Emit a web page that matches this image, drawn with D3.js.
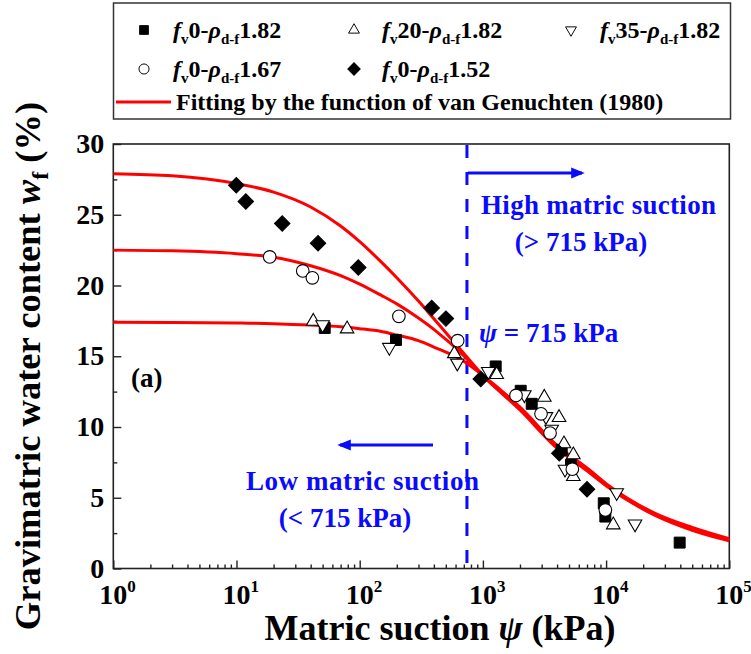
<!DOCTYPE html>
<html>
<head>
<meta charset="utf-8">
<script src="https://cdn.jsdelivr.net/npm/d3@7"></script>
<style>
  html, body { margin: 0; padding: 0; background: #fff; }
  svg { display: block; font-family: "Liberation Serif", "Times New Roman", serif; font-weight: bold; }
</style>
</head>
<body>
<svg id="chart" width="751" height="654"></svg>
<script>
// ---------------- DATA ----------------
// measured points: suction psi (kPa) and gravimetric water content (%)
const fv0_182_psi = [52, 197, 1270, 2027, 2490, 4363, 5190, 9570, 9860, 39550];
const fv0_182_w   = [17.0, 16.15, 14.28, 12.56, 11.64, 8.39, 7.33, 4.61, 3.67, 1.83];

const fv20_182_psi = [42, 79, 586, 1294, 3150, 4150, 4550, 5420, 5420, 11430];
const fv20_182_w   = [17.47, 16.93, 15.18, 13.7, 12.1, 10.67, 8.81, 8.03, 6.5, 3.08];

const fv35_182_psi = [50, 174, 620, 1106, 2168, 3250, 3615, 4640, 12190, 17170];
const fv35_182_w   = [17.23, 15.63, 14.52, 13.93, 12.28, 10.74, 9.85, 7.02, 5.36, 3.15];

const fv0_167_psi = [18.6, 34.5, 41.3, 208, 624, 1857, 2963, 3508, 5320, 9860];
const fv0_167_w   = [22.02, 21.03, 20.54, 17.82, 16.1, 12.23, 10.93, 9.57, 7.02, 4.14];

const fv0_152_psi = [9.96, 11.9, 23.5, 45.9, 97.4, 384, 501, 960, 4170, 7000];
const fv0_152_w   = [27.09, 25.94, 24.38, 22.99, 21.27, 18.41, 17.66, 13.39, 8.15, 5.6];

// fitted curves (van Genuchten)
const fitPsi = [1, 3, 10, 20, 40, 70, 100, 150, 200, 300, 400, 715, 1000, 2000, 4000, 7000, 10000, 25000, 50000, 100000];
const fitA   = [27.9, 27.75, 27.2, 26.6, 25.55, 24.2, 23.1, 21.65, 20.55, 18.9, 17.65, 15.1, 13.65, 11.2, 8.5, 6.9, 5.85, 3.75, 2.7, 1.95];
const fitB   = [22.5, 22.45, 22.25, 22.0, 21.4, 20.7, 20.1, 19.3, 18.7, 17.7, 16.9, 14.95, 13.6, 11.3, 8.6, 7.0, 5.9, 3.8, 2.8, 2.0];
const fitC   = [17.4, 17.39, 17.35, 17.3, 17.2, 17.08, 16.95, 16.75, 16.5, 16.1, 15.65, 14.6, 13.65, 11.4, 8.7, 7.1, 6.0, 3.9, 2.9, 2.1];

const xTickValues = [1, 10, 100, 1000, 10000, 100000];
const xTickExp    = ["0", "1", "2", "3", "4", "5"];
const yTickValues = [0, 5, 10, 15, 20, 25, 30];
const yMinorValues = [2.5, 7.5, 12.5, 17.5, 22.5, 27.5];
const threshold = 715;

// ---------------- SETUP ----------------
const svg = d3.select("#chart");
const L = 113.3, R = 729.3, T = 144, B = 568.5;
const x = d3.scaleLog().domain([1, 1e5]).range([L, R]);
const y = d3.scaleLinear().domain([0, 30]).range([B, T]);

const blue = "#0a0aff";
const red = "#ff0000";

// frame
svg.append("rect").attr("x", L).attr("y", T).attr("width", R - L).attr("height", B - T)
  .attr("fill", "none").attr("stroke", "#222").attr("stroke-width", 1.6);

// x axis ticks (inward)
const minorX = [];
for (let e = 0; e < 5; e++) for (let k = 2; k <= 9; k++) minorX.push(k * Math.pow(10, e));
const gx = svg.append("g").attr("transform", `translate(0,${B})`);
gx.call(d3.axisBottom(x).tickValues(xTickValues).tickSize(-8).tickFormat(""));
gx.append("g").call(d3.axisBottom(x).tickValues(minorX).tickSize(-4).tickFormat(""));
gx.selectAll(".domain").remove();
gx.selectAll("line").attr("stroke", "#222").attr("stroke-width", 1.4);

// y axis ticks (inward)
const gy = svg.append("g").attr("transform", `translate(${L},0)`);
gy.call(d3.axisLeft(y).tickValues(yTickValues).tickSize(-8).tickFormat(""));
gy.append("g").call(d3.axisLeft(y).tickValues(yMinorValues).tickSize(-4).tickFormat(""));
gy.selectAll(".domain").remove();
gy.selectAll("line").attr("stroke", "#222").attr("stroke-width", 1.4);

// y tick labels
svg.append("g").selectAll("text").data(yTickValues).join("text")
  .attr("x", L - 9).attr("y", d => y(d) + 9)
  .attr("text-anchor", "end").attr("font-size", 28).attr("fill", "#000")
  .text(d => d);

// x tick labels with superscripts ("10" centred on the tick)
const xl = svg.append("g").selectAll("text").data(xTickValues).join("text")
  .attr("x", d => x(d) - 14).attr("y", 604)
  .attr("text-anchor", "start").attr("font-size", 28).attr("fill", "#000");
xl.append("tspan").text("10");
xl.append("tspan").attr("font-size", 17).attr("dy", -12).text((d, i) => xTickExp[i]);

// axis titles
const xt = svg.append("text").attr("x", 440).attr("y", 640).attr("text-anchor", "middle")
  .attr("font-size", 36).attr("fill", "#000");
xt.append("tspan").text("Matric suction ");
xt.append("tspan").attr("font-style", "italic").text("ψ");
xt.append("tspan").text(" (kPa)");

const yt = svg.append("text").attr("transform", "translate(40,366) rotate(-90)")
  .attr("text-anchor", "middle").attr("font-size", 36.5).attr("fill", "#000");
yt.append("tspan").text("Gravimatric water content ");
yt.append("tspan").attr("font-style", "italic").text("w");
yt.append("tspan").attr("font-size", 24).attr("dy", 8).text("f");
yt.append("tspan").attr("dy", -8).text(" (%)");

// threshold dashed line
svg.append("line").attr("x1", x(threshold) + 2).attr("x2", x(threshold) + 2)
  .attr("y1", T + 1).attr("y2", B)
  .attr("stroke", blue).attr("stroke-width", 3).attr("stroke-dasharray", "13,14");

// fitted curves
const line = d3.line().x((d, i) => x(fitPsi[i])).y(d => y(d)).curve(d3.curveMonotoneX);
[fitA, fitB, fitC].forEach(c => {
  svg.append("path").attr("d", line(c)).attr("fill", "none")
    .attr("stroke", red).attr("stroke-width", 3);
});

// symbols
const sq = d3.symbol().type(d3.symbolSquare).size(120)();
const tri = d3.symbol().type(d3.symbolTriangle).size(80)();
const circ = d3.symbol().type(d3.symbolCircle).size(125)();
const dia = d3.symbol().type(d3.symbolSquare).size(120)();

const series = [
  {psi: fv0_182_psi, w: fv0_182_w, path: sq, fill: "#000", stroke: "#000", rot: 0, sw: 1},
  {psi: fv20_182_psi, w: fv20_182_w, path: tri, fill: "#fff", stroke: "#000", rot: 0, sw: 1.1},
  {psi: fv35_182_psi, w: fv35_182_w, path: tri, fill: "#fff", stroke: "#000", rot: 180, sw: 1.1},
  {psi: fv0_167_psi, w: fv0_167_w, path: circ, fill: "#fff", stroke: "#000", rot: 0, sw: 1.1},
  {psi: fv0_152_psi, w: fv0_152_w, path: dia, fill: "#000", stroke: "#000", rot: 45, sw: 1}
];
series.forEach(s => {
  svg.append("g").selectAll("path").data(s.psi).join("path")
    .attr("d", s.path)
    .attr("transform", (d, i) => `translate(${x(d)},${y(s.w[i])}) rotate(${s.rot})`)
    .attr("fill", s.fill).attr("stroke", s.stroke).attr("stroke-width", s.sw);
});

// annotations
svg.append("text").attr("x", 131).attr("y", 387).attr("font-size", 27).attr("fill", "#000").text("(a)");

const psiT = svg.append("text").attr("x", 479).attr("y", 342).attr("font-size", 27).attr("fill", blue);
psiT.append("tspan").attr("font-style", "italic").text("ψ");
psiT.append("tspan").text(" = 715 kPa");

svg.append("text").attr("x", 481).attr("y", 214)
  .attr("font-size", 27).attr("fill", blue)
  .attr("textLength", 235).attr("lengthAdjust", "spacing").text("High matric suction");
svg.append("text").attr("x", 581).attr("y", 251).attr("text-anchor", "middle")
  .attr("font-size", 27).attr("fill", blue).text("(> 715 kPa)");
svg.append("text").attr("x", 246).attr("y", 490)
  .attr("font-size", 27).attr("fill", blue)
  .attr("textLength", 233).attr("lengthAdjust", "spacing").text("Low matric suction");
svg.append("text").attr("x", 345).attr("y", 527).attr("text-anchor", "middle")
  .attr("font-size", 27).attr("fill", blue).text("(< 715 kPa)");

// arrows
svg.append("defs").append("marker").attr("id", "ah").attr("viewBox", "0 0 10 10")
  .attr("refX", 8).attr("refY", 5).attr("markerWidth", 4.5).attr("markerHeight", 4.5)
  .attr("orient", "auto-start-reverse").attr("markerUnits", "strokeWidth")
  .append("path").attr("d", "M0,1 L10,5 L0,9 Z").attr("fill", blue);
svg.append("line").attr("x1", 468).attr("x2", 582).attr("y1", 173).attr("y2", 173)
  .attr("stroke", blue).attr("stroke-width", 3).attr("marker-end", "url(#ah)");
svg.append("line").attr("x1", 433).attr("x2", 340).attr("y1", 445).attr("y2", 445)
  .attr("stroke", blue).attr("stroke-width", 3).attr("marker-end", "url(#ah)");

// ---------------- LEGEND ----------------
const lg = svg.append("g");
lg.append("rect").attr("x", 113.5).attr("y", 3).attr("width", 617).attr("height", 116)
  .attr("fill", "#fff").attr("stroke", "#333").attr("stroke-width", 1.5);

const legendItems = [
  {sym: sq, fill: "#000", rot: 0, sx: 144, tx: 173, yy: 30, a: "0", b: "1.82"},
  {sym: tri, fill: "#fff", rot: 0, sx: 354, tx: 382, yy: 30, a: "20", b: "1.82"},
  {sym: tri, fill: "#fff", rot: 180, sx: 571, tx: 600, yy: 30, a: "35", b: "1.82"},
  {sym: circ, fill: "#fff", rot: 0, sx: 144, tx: 173, yy: 69, a: "0", b: "1.67"},
  {sym: dia, fill: "#000", rot: 45, sx: 354, tx: 382, yy: 69, a: "0", b: "1.52"}
];
legendItems.forEach(it => {
  lg.append("path").attr("d", it.sym)
    .attr("transform", `translate(${it.sx},${it.yy}) rotate(${it.rot}) scale(0.8)`)
    .attr("fill", it.fill).attr("stroke", "#000").attr("stroke-width", 1.2);
  const t = lg.append("text").attr("x", it.tx).attr("y", it.yy + 8).attr("font-size", 24).attr("fill", "#000");
  t.append("tspan").attr("font-style", "italic").text("f");
  t.append("tspan").attr("font-size", 15).attr("dy", 6).text("v");
  t.append("tspan").attr("dy", -6).text(it.a + "-");
  t.append("tspan").attr("font-style", "italic").text("ρ");
  t.append("tspan").attr("font-size", 15).attr("dy", 6).text("d-f");
  t.append("tspan").attr("dy", -6).text(it.b);
});
lg.append("line").attr("x1", 116).attr("x2", 171).attr("y1", 102).attr("y2", 102)
  .attr("stroke", red).attr("stroke-width", 3);
lg.append("text").attr("x", 176).attr("y", 110).attr("font-size", 24).attr("fill", "#000")
  .text("Fitting by the function of van Genuchten (1980)");
</script>
</body>
</html>
